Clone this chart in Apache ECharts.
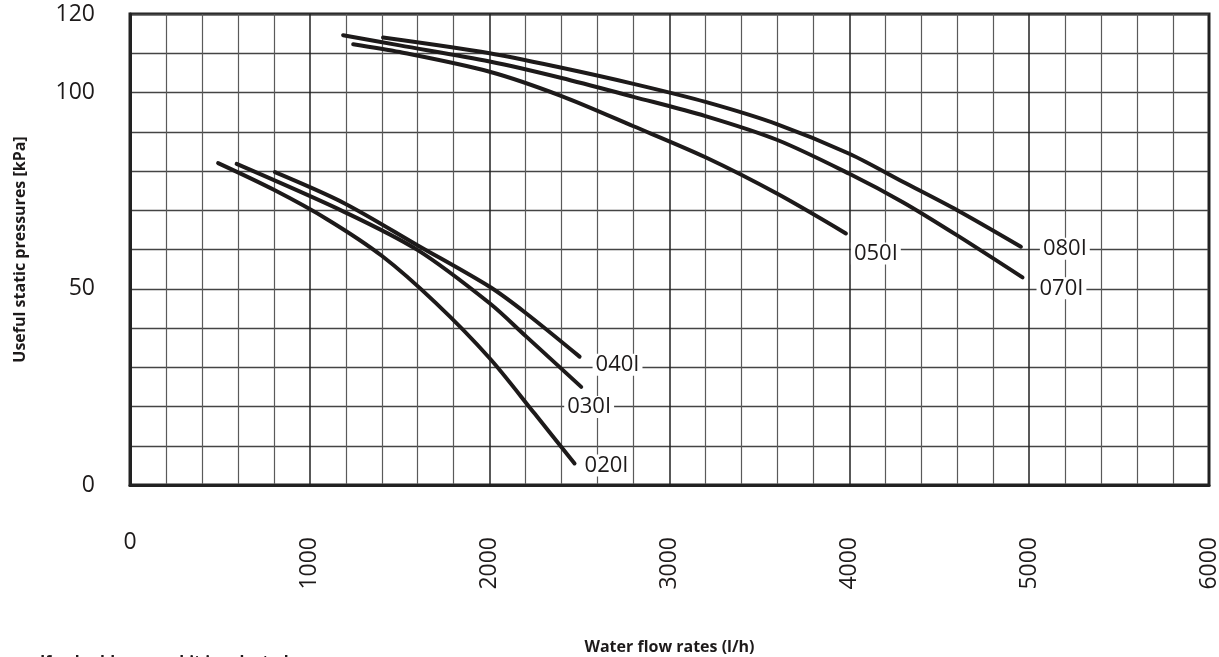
<!DOCTYPE html>
<html><head><meta charset="utf-8">
<script src="https://cdn.jsdelivr.net/npm/echarts@6/dist/echarts.min.js"></script>
<style>html,body{margin:0;padding:0;background:#fff}#c{width:1219px;height:657px}</style>
</head><body><div id="c"></div>
<script>
// Water flow rate (l/h) and useful static pressure (kPa) per unit size
const flow020 = [490, 800, 1100, 1400, 1700, 2000, 2250, 2472];
const kpa020  = [82, 75.2, 67.6, 58.4, 46.4, 32.3, 18.2, 5.5];
const flow030 = [593, 1191, 1598, 2000, 2204, 2509];
const kpa030  = [81.8, 69.6, 59.9, 46.3, 37.8, 25];
const flow040 = [806, 1191, 1598, 2000, 2204, 2500];
const kpa040  = [79.7, 71.8, 61.1, 50.5, 43.7, 32.7];
const flow050 = [1241, 1500, 2000, 2400, 2800, 3200, 3600, 3981];
const kpa050  = [112.3, 110.3, 105.3, 99.1, 91.4, 83.5, 74.2, 64.1];
const flow070 = [1185, 1500, 2000, 2400, 2800, 3200, 3600, 4000, 4300, 4600, 4963];
const kpa070  = [114.6, 112.0, 107.9, 103.7, 98.9, 94.0, 87.9, 79.3, 72.0, 63.6, 52.9];
const flow080 = [1407, 2000, 2400, 2800, 3200, 3600, 4000, 4300, 4600, 4954];
const kpa080  = [114.0, 110.0, 106.3, 102.2, 97.6, 91.9, 84.4, 77.2, 70.0, 60.7];
const seriesNames = ['020I', '030I', '040I', '050I', '070I', '080I'];
const yTickLabels = [0, 50, 100, 120];
const xName = 'Water flow rates (l/h)';
const yName = 'Useful static pressures [kPa]';
const footNote = 'If a double pump kit is selected';

const zip = (xs, ys) => xs.map((x, i) => [x, ys[i]]);
const curves = [
  [flow020, kpa020, [7, 2]],
  [flow030, kpa030, [-17, 20]],
  [flow040, kpa040, [13, 8]],
  [flow050, kpa050, [5, 20]],
  [flow070, kpa070, [14, 11]],
  [flow080, kpa080, [19, 2]]
];
const FONT = '"Open Sans", "Noto Sans", sans-serif';
const ink = '#1d1a1a';

const chart = echarts.init(document.getElementById('c'), null, {renderer: 'canvas'});
chart.setOption({
  animation: false,
  backgroundColor: '#fff',
  grid: {left: 130, right: 10, top: 14, bottom: 172, containLabel: false, outerBoundsMode: 'none',
    show: true, borderColor: '#222', borderWidth: 3, backgroundColor: 'transparent'},
  xAxis: [{
    type: 'value', min: 0, max: 6000, interval: 1000,
    name: xName, nameLocation: 'middle', nameGap: 154,
    nameTextStyle: {fontFamily: FONT, fontWeight: 'bold', fontSize: 16, color: ink},
    axisLine: {show: true, onZero: false, lineStyle: {color: '#222', width: 3}},
    axisTick: {show: false},
    axisLabel: {rotate: 90, margin: 52, fontFamily: FONT, fontSize: 23, color: ink,
      formatter: v => v === 0 ? '' : String(v)},
    splitLine: {show: true, lineStyle: {color: '#222', width: 1.5}},
    minorTick: {show: false, splitNumber: 5},
    minorSplitLine: {show: true, lineStyle: {color: '#5a5a5a', width: 1.2}}
  }, {
    type: 'value', min: 0, max: 6000, interval: 1000, position: 'bottom',
    axisLine: {show: false}, axisTick: {show: false}, splitLine: {show: false},
    axisLabel: {margin: 46, fontFamily: FONT, fontSize: 23, color: ink,
      formatter: v => v === 0 ? '0' : ''}
  }],
  yAxis: {
    type: 'value', min: 0, max: 120, interval: 10,
    name: yName, nameLocation: 'middle', nameGap: 102,
    nameTextStyle: {fontFamily: FONT, fontWeight: 'bold', fontSize: 16, color: ink},
    axisLine: {show: true, lineStyle: {color: '#222', width: 3}},
    axisTick: {show: false},
    axisLabel: {margin: 35, fontFamily: FONT, fontSize: 23, color: ink,
      formatter: v => yTickLabels.includes(v) ? String(v) : ''},
    splitLine: {show: true, lineStyle: {color: '#444', width: 1.3}}
  },
  graphic: [{
    type: 'text', left: 40, top: 654,
    style: {text: footNote, font: 'bold 16px ' + FONT, fill: ink}
  }],
  series: curves.map((c, i) => ({
    name: seriesNames[i],
    type: 'line',
    xAxisIndex: 0,
    data: zip(c[0], c[1]),
    smooth: 0.3,
    showSymbol: false,
    symbol: 'none',
    lineStyle: {color: ink, width: 4, cap: 'round'},
    endLabel: {
      show: true, formatter: '{a}', distance: 0, offset: c[2],
      align: 'left', verticalAlign: 'middle',
      fontFamily: FONT, fontSize: 22, color: ink,
      backgroundColor: '#fff', padding: [0, 3]
    },
    z: 3
  }))
});
</script>
</body></html>
